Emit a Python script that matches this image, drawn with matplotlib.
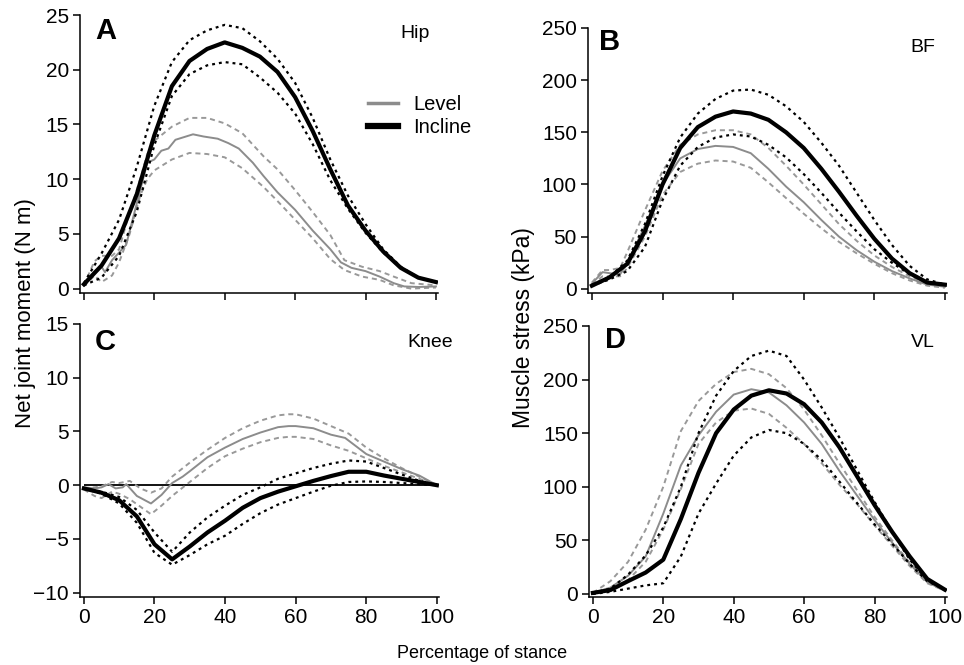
import numpy as np
import matplotlib.pyplot as plt
from matplotlib.lines import Line2D

plt.rcParams['font.family'] = ['Liberation Sans', 'DejaVu Sans']

# --- data (percentage of stance) ---
pct = [0, 5, 10, 15, 20, 25, 30, 35, 40, 45, 50, 55, 60, 65, 70, 75, 80, 85, 90, 95, 100]

# A: hip moment (N m)
hip_inc = [0.4, 2.1, 4.6, 8.6, 14.0, 18.5, 20.8, 21.9, 22.5, 22.0, 21.2, 19.8, 17.5, 14.4, 10.9, 7.6, 5.3, 3.4, 1.9, 1.0, 0.6]
hip_inc_hi = [0.5, 3.2, 6.3, 11.1, 16.7, 20.7, 22.7, 23.6, 24.1, 23.8, 22.6, 21.0, 18.8, 15.6, 11.8, 8.5, 5.9, 3.6, 2.0, 1.0, 0.6]
hip_inc_lo = [0.3, 1.0, 3.0, 7.0, 13.1, 17.6, 19.6, 20.4, 20.7, 20.5, 19.3, 17.9, 16.0, 13.2, 9.9, 7.3, 5.1, 3.3, 1.9, 1.0, 0.6]
hip_lvl_x = [0, 3, 5, 6, 8, 10, 12, 14, 16, 18, 20, 22, 24, 26, 28, 31, 34, 38, 41, 44, 48, 51, 55, 60, 65, 70, 73, 76, 80, 84, 88, 91, 95, 100]
hip_lvl = [0.3, 1.6, 2.0, 1.5, 2.6, 3.3, 4.0, 6.5, 9.0, 11.5, 11.8, 12.6, 12.8, 13.6, 13.8, 14.1, 13.9, 13.7, 13.3, 12.8, 11.5, 10.3, 8.8, 7.2, 5.3, 3.6, 2.4, 1.9, 1.6, 1.1, 0.5, 0.2, 0.15, 0.2]
hip_sd_x = [0, 3, 5, 8, 10, 13, 16, 18, 20, 25, 30, 35, 40, 45, 51, 55, 60, 65, 70, 74, 79, 84, 88, 93, 100]
hip_lvl_hi = [0.3, 2.5, 3.0, 3.0, 3.6, 7.0, 10.0, 12.3, 13.5, 14.8, 15.6, 15.6, 15.1, 14.2, 12.1, 10.9, 9.0, 7.0, 4.9, 2.6, 2.0, 1.6, 1.1, 0.5, 0.3]
hip_lvl_lo = [0.2, 1.2, 0.6, 1.2, 2.4, 5.0, 8.5, 10.0, 10.8, 11.8, 12.4, 12.3, 12.0, 11.0, 9.3, 8.0, 6.3, 4.6, 2.7, 1.7, 1.1, 0.8, 0.3, 0.0, 0.1]

# B: BF muscle stress (kPa)
bf_inc = [3, 11, 24, 55, 100, 135, 155, 165, 170, 168, 162, 150, 135, 115, 93, 70, 48, 29, 15, 6, 4]
bf_inc_hi = [4, 11, 27, 62, 108, 145, 168, 182, 190, 191, 186, 175, 160, 140, 118, 92, 66, 42, 22, 9, 4]
bf_inc_lo = [3, 9, 17, 40, 85, 118, 136, 145, 148, 146, 138, 126, 110, 92, 73, 55, 38, 25, 14, 6, 4]
bf_lvl_x = [0, 3, 5, 8, 10, 15, 20, 25, 30, 35, 40, 45, 50, 55, 60, 65, 70, 75, 80, 85, 90, 95, 100]
bf_lvl = [5, 16, 15, 14, 25, 60, 100, 125, 134, 137, 136, 130, 115, 98, 83, 66, 50, 37, 26, 17, 10, 4, 2]
bf_lvl_hi = [6, 18, 18, 20, 35, 75, 113, 138, 148, 152, 152, 148, 135, 118, 100, 81, 62, 46, 32, 21, 12, 5, 3]
bf_lvl_lo = [4, 12, 12, 12, 20, 50, 90, 112, 120, 123, 122, 116, 102, 87, 72, 58, 45, 34, 24, 15, 8, 3, 1]

# C: knee moment (N m)
knee_inc = [-0.3, -0.7, -1.4, -2.9, -5.5, -6.9, -5.7, -4.4, -3.3, -2.1, -1.2, -0.6, -0.1, 0.4, 0.85, 1.25, 1.25, 0.9, 0.6, 0.3, 0.0]
knee_inc_hi = [-0.3, -0.6, -1.1, -2.3, -4.4, -6.2, -4.4, -3.0, -1.9, -0.9, -0.2, 0.6, 1.1, 1.6, 2.0, 2.3, 2.2, 1.6, 1.0, 0.4, 0.0]
knee_inc_lo = [-0.3, -0.8, -1.7, -3.5, -6.3, -7.4, -6.5, -5.5, -4.7, -3.6, -2.6, -1.8, -1.2, -0.6, -0.05, 0.3, 0.35, 0.3, 0.2, 0.1, 0.0]
knee_lvl_x = [0, 3, 5, 7, 9, 11, 12, 15, 19, 22, 25, 28, 30, 35, 40, 45, 50, 55, 58, 60, 65, 70, 74, 80, 85, 90, 95, 100]
knee_lvl = [-0.2, -0.3, -0.2, 0.1, -0.3, -0.2, 0.1, -1.0, -1.7, -0.9, 0.2, 0.8, 1.3, 2.6, 3.5, 4.3, 4.9, 5.4, 5.5, 5.5, 5.3, 4.7, 4.4, 2.9, 2.2, 1.5, 0.9, 0.0]
knee_sd_x = [0, 3, 5, 8, 10, 13, 16, 19, 22, 25, 30, 35, 40, 45, 50, 55, 58, 60, 65, 70, 75, 80, 85, 90, 95, 100]
knee_lvl_hi = [-0.3, -0.2, -0.1, 0.3, 0.2, 0.4, -0.3, -0.7, -0.3, 0.8, 2.1, 3.3, 4.4, 5.3, 6.0, 6.5, 6.6, 6.6, 6.2, 5.5, 4.8, 3.5, 2.5, 1.6, 0.8, 0.0]
knee_lvl_lo = [-0.4, -1.0, -1.2, -0.6, -0.8, -1.3, -2.0, -2.7, -1.9, -1.0, 0.3, 1.6, 2.7, 3.4, 4.0, 4.4, 4.5, 4.5, 4.3, 3.7, 3.2, 2.5, 1.8, 1.2, 0.6, 0.0]

# D: VL muscle stress (kPa)
vl_inc = [1, 3.7, 12, 20, 32, 70, 113, 150, 172, 185, 190, 187, 177, 160, 137, 110, 83, 58, 35, 14, 4]
vl_inc_hi = [1, 5, 18, 36, 62, 100, 150, 185, 208, 222, 227, 222, 200, 174, 146, 116, 86, 58, 32, 13, 4]
vl_inc_lo = [0, 2, 5, 8, 10, 35, 75, 103, 129, 146, 153, 150, 140, 125, 105, 85, 65, 47, 28, 12, 4]
vl_lvl = [1, 6, 17, 35, 75, 120, 148, 170, 186, 191, 188, 176, 160, 140, 115, 92, 69, 48, 28, 11, 3]
vl_lvl_hi = [1, 12, 30, 60, 100, 152, 180, 196, 207, 210, 205, 192, 172, 148, 122, 97, 72, 50, 29, 12, 3]
vl_lvl_lo = [1, 5, 13, 30, 60, 98, 140, 160, 171, 173, 168, 155, 140, 122, 102, 84, 64, 45, 26, 10, 3]

GRAY = '#8c8c8c'
GRAY_D = '#999999'


def draw(ax, lx, lvl, sx, lhi, llo, ix, inc, ihi, ilo):
    ax.plot(sx, lhi, color=GRAY_D, lw=1.4, ls=(0, (2.6, 2.0)))
    ax.plot(sx, llo, color=GRAY_D, lw=1.4, ls=(0, (2.6, 2.0)))
    ax.plot(lx, lvl, color=GRAY, lw=1.4)
    ax.plot(ix, ihi, color='black', lw=1.6, ls=(0, (1.3, 1.8)))
    ax.plot(ix, ilo, color='black', lw=1.6, ls=(0, (1.3, 1.8)))
    ax.plot(ix, inc, color='black', lw=3.0)


def style(ax, ylim, yticks, xlabels):
    ax.set_xlim(-1.1, 100.6)
    ax.set_ylim(*ylim)
    ax.set_yticks(yticks)
    ax.set_xticks(range(0, 101, 20))
    if not xlabels:
        ax.set_xticklabels([])
    for s in ['top', 'right']:
        ax.spines[s].set_visible(False)
    for s in ['left', 'bottom']:
        ax.spines[s].set_linewidth(1.1)
    ax.tick_params(direction='out', length=5, width=1.1, labelsize=15, pad=3)


fig = plt.figure(figsize=(9.64, 6.65), dpi=100)
axA = fig.add_axes([0.083, 0.5594, 0.3714, 0.418])
axB = fig.add_axes([0.610, 0.5594, 0.3724, 0.3985])
axC = fig.add_axes([0.083, 0.1023, 0.3724, 0.4105])
axD = fig.add_axes([0.611, 0.1023, 0.3714, 0.4075])

draw(axA, hip_lvl_x, hip_lvl, hip_sd_x, hip_lvl_hi, hip_lvl_lo, pct, hip_inc, hip_inc_hi, hip_inc_lo)
draw(axB, bf_lvl_x, bf_lvl, bf_lvl_x, bf_lvl_hi, bf_lvl_lo, pct, bf_inc, bf_inc_hi, bf_inc_lo)
axC.hlines(0, 0, 100, color='black', lw=1.3)
draw(axC, knee_lvl_x, knee_lvl, knee_sd_x, knee_lvl_hi, knee_lvl_lo, pct, knee_inc, knee_inc_hi, knee_inc_lo)
draw(axD, pct, vl_lvl, pct, vl_lvl_hi, vl_lvl_lo, pct, vl_inc, vl_inc_hi, vl_inc_lo)

style(axA, (-0.4, 25), range(0, 26, 5), False)
style(axB, (-4, 250), range(0, 251, 50), False)
style(axC, (-10.4, 15), range(-10, 16, 5), True)
style(axD, (-2.8, 250), range(0, 251, 50), True)

# panel letters and names (x, baseline y in axes fraction)
panels = [(axA, 'A', 0.042, 0.914, 'Hip', 0.978, 0.917),
          (axB, 'B', 0.031, 0.917, 'BF', 0.967, 0.909),
          (axC, 'C', 0.042, 0.905, 'Knee', 1.039, 0.916),
          (axD, 'D', 0.045, 0.919, 'VL', 0.966, 0.922)]
for ax, letter, lx, ly, name, nx, ny in panels:
    ax.text(lx, ly, letter, transform=ax.transAxes, fontsize=21, fontweight='bold',
            ha='left', va='baseline')
    ax.text(nx, ny, name, transform=ax.transAxes, fontsize=14, ha='right', va='baseline')

handles = [Line2D([], [], color=GRAY, lw=2.5), Line2D([], [], color='black', lw=4.5)]
axA.legend(handles, ['Level', 'Incline'], loc='upper left', bbox_to_anchor=(0.804, 0.713),
           frameon=False, fontsize=14.5, handlelength=1.5, handletextpad=0.75,
           labelspacing=0.22, borderpad=0, borderaxespad=0)

fig.text(0.026, 0.529, 'Net joint moment (N m)', rotation=90, fontsize=16, ha='center', va='center')
fig.text(0.543, 0.508, 'Muscle stress (kPa)', rotation=90, fontsize=16.5, ha='center', va='center')
fig.text(0.5, 0.011, 'Percentage of stance', fontsize=13, ha='center', va='baseline')

fig.savefig('out.png', dpi=100)
